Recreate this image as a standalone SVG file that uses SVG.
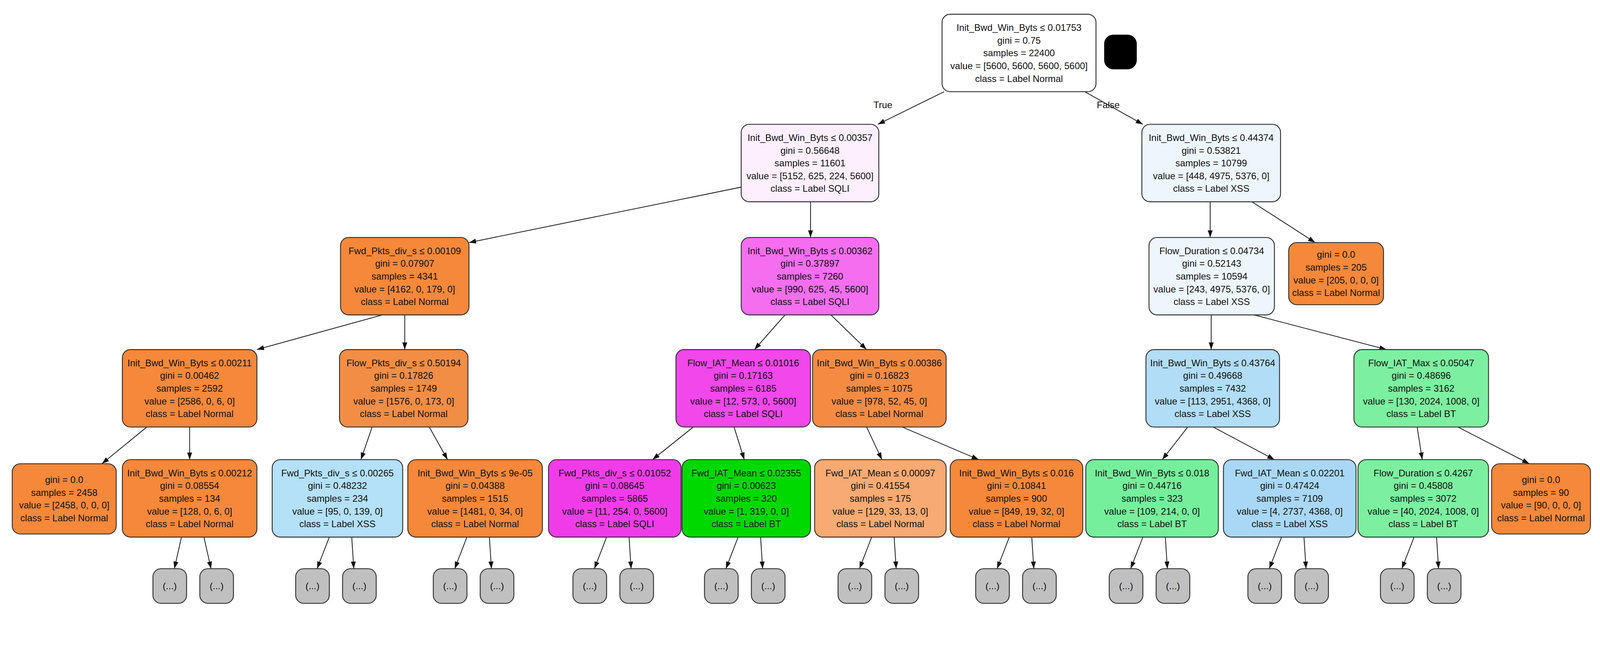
<svg xmlns="http://www.w3.org/2000/svg" width="4408" height="1680" viewBox="0 0 4408 1680">
<style>
.n rect{stroke:#333;stroke-width:0.9}
.n text{font-family:"Liberation Sans",Arial,sans-serif;font-size:9.2px;text-anchor:middle;fill:#111}
.e line{stroke:#222;stroke-width:0.8;marker-end:url(#ah)}
.lbl{font-family:"Liberation Sans",Arial,sans-serif;font-size:9.2px;text-anchor:middle;fill:#111}
.o{fill:#f5883a}
.l rect{fill:#c0c0c0}
</style>
<defs><marker id="ah" viewBox="0 0 10 10" refX="10" refY="5" markerWidth="7" markerHeight="7" orient="auto" markerUnits="userSpaceOnUse"><path d="M0,1.5L10,5L0,8.5z" fill="#111"/></marker></defs>
<rect width="4408" height="1680" fill="#fff"/>
<g transform="scale(2.61)">
<g id="edges" class="e">
<line x1="926" y1="90" x2="861" y2="122"/>
<line x1="1064" y1="90" x2="1121" y2="122"/>
<line x1="730" y1="183" x2="460" y2="238"/>
<line x1="795" y1="198" x2="795" y2="233"/>
<line x1="1187" y1="198" x2="1187" y2="233"/>
<line x1="1228" y1="198" x2="1290" y2="238"/>
<line x1="375" y1="309" x2="252" y2="343"/>
<line x1="397" y1="309" x2="397" y2="343"/>
<line x1="770" y1="309" x2="740" y2="343"/>
<line x1="815" y1="309" x2="850" y2="343"/>
<line x1="1188" y1="309" x2="1188" y2="343"/>
<line x1="1230" y1="309" x2="1360" y2="343"/>
<line x1="144" y1="419" x2="100" y2="455"/>
<line x1="186" y1="419" x2="186" y2="451"/>
<line x1="365" y1="419" x2="354" y2="451"/>
<line x1="421" y1="419" x2="439" y2="451"/>
<line x1="680" y1="419" x2="640" y2="451"/>
<line x1="720" y1="419" x2="730" y2="451"/>
<line x1="850" y1="419" x2="865" y2="451"/>
<line x1="885" y1="419" x2="960" y2="451"/>
<line x1="1165" y1="419" x2="1140" y2="451"/>
<line x1="1190" y1="419" x2="1250" y2="451"/>
<line x1="1390" y1="419" x2="1395" y2="451"/>
<line x1="1430" y1="419" x2="1500" y2="455"/>
<line x1="178" y1="527" x2="171" y2="558"/><line x1="200" y1="527" x2="207" y2="558"/>
<line x1="323" y1="527" x2="311" y2="558"/><line x1="345" y1="527" x2="347" y2="558"/>
<line x1="458" y1="527" x2="446" y2="558"/><line x1="480" y1="527" x2="482" y2="558"/>
<line x1="595" y1="527" x2="583" y2="558"/><line x1="617" y1="527" x2="619" y2="558"/>
<line x1="724" y1="527" x2="712" y2="558"/><line x1="746" y1="527" x2="748" y2="558"/>
<line x1="855" y1="527" x2="843" y2="558"/><line x1="877" y1="527" x2="879" y2="558"/>
<line x1="990" y1="527" x2="978" y2="558"/><line x1="1012" y1="527" x2="1014" y2="558"/>
<line x1="1121" y1="527" x2="1109" y2="558"/><line x1="1143" y1="527" x2="1145" y2="558"/>
<line x1="1257" y1="527" x2="1245" y2="558"/><line x1="1279" y1="527" x2="1281" y2="558"/>
<line x1="1387" y1="527" x2="1375" y2="558"/><line x1="1409" y1="527" x2="1411" y2="558"/>
</g>
<text class="lbl" x="866" y="106">True</text>
<text class="lbl" x="1087" y="106">False</text>
<rect x="1083" y="34" width="32" height="34" rx="9" fill="#000"/>

<g id="root" class="n"><rect x="924" y="14" width="151" height="76" rx="8" fill="#fff"/><text x="999.5" y="30.3">Init_Bwd_Win_Byts ≤ 0.01753<tspan x="999.5" dy="12.5">gini = 0.75</tspan><tspan x="999.5" dy="12.5">samples = 22400</tspan><tspan x="999.5" dy="12.5">value = [5600, 5600, 5600, 5600]</tspan><tspan x="999.5" dy="12.5">class = Label Normal</tspan></text></g>

<g id="nA" class="n"><rect x="727" y="122" width="135" height="76" rx="8" fill="#fdeffd"/><text x="794.5" y="138.3">Init_Bwd_Win_Byts ≤ 0.00357<tspan x="794.5" dy="12.5">gini = 0.56648</tspan><tspan x="794.5" dy="12.5">samples = 11601</tspan><tspan x="794.5" dy="12.5">value = [5152, 625, 224, 5600]</tspan><tspan x="794.5" dy="12.5">class = Label SQLI</tspan></text></g>
<g id="nB" class="n"><rect x="1120" y="122" width="136" height="76" rx="8" fill="#eef6fd"/><text x="1188" y="138.3">Init_Bwd_Win_Byts ≤ 0.44374<tspan x="1188" dy="12.5">gini = 0.53821</tspan><tspan x="1188" dy="12.5">samples = 10799</tspan><tspan x="1188" dy="12.5">value = [448, 4975, 5376, 0]</tspan><tspan x="1188" dy="12.5">class = Label XSS</tspan></text></g>

<g id="nC" class="n"><rect x="334" y="233" width="126" height="76" rx="8" class="o"/><text x="397" y="249.3">Fwd_Pkts_div_s ≤ 0.00109<tspan x="397" dy="12.5">gini = 0.07907</tspan><tspan x="397" dy="12.5">samples = 4341</tspan><tspan x="397" dy="12.5">value = [4162, 0, 179, 0]</tspan><tspan x="397" dy="12.5">class = Label Normal</tspan></text></g>
<g id="nD" class="n"><rect x="727" y="233" width="135" height="76" rx="8" fill="#f56ef0"/><text x="794.5" y="249.3">Init_Bwd_Win_Byts ≤ 0.00362<tspan x="794.5" dy="12.5">gini = 0.37897</tspan><tspan x="794.5" dy="12.5">samples = 7260</tspan><tspan x="794.5" dy="12.5">value = [990, 625, 45, 5600]</tspan><tspan x="794.5" dy="12.5">class = Label SQLI</tspan></text></g>
<g id="nE" class="n"><rect x="1127" y="233" width="123" height="76" rx="8" fill="#eef6fd"/><text x="1188.5" y="249.3">Flow_Duration ≤ 0.04734<tspan x="1188.5" dy="12.5">gini = 0.52143</tspan><tspan x="1188.5" dy="12.5">samples = 10594</tspan><tspan x="1188.5" dy="12.5">value = [243, 4975, 5376, 0]</tspan><tspan x="1188.5" dy="12.5">class = Label XSS</tspan></text></g>
<g id="nF" class="n"><rect x="1264" y="238" width="93" height="61" rx="8" class="o"/><text x="1310.5" y="253">gini = 0.0<tspan x="1310.5" dy="12.5">samples = 205</tspan><tspan x="1310.5" dy="12.5">value = [205, 0, 0, 0]</tspan><tspan x="1310.5" dy="12.5">class = Label Normal</tspan></text></g>

<g id="nG" class="n"><rect x="120" y="343" width="132" height="76" rx="8" class="o"/><text x="186" y="359.3">Init_Bwd_Win_Byts ≤ 0.00211<tspan x="186" dy="12.5">gini = 0.00462</tspan><tspan x="186" dy="12.5">samples = 2592</tspan><tspan x="186" dy="12.5">value = [2586, 0, 6, 0]</tspan><tspan x="186" dy="12.5">class = Label Normal</tspan></text></g>
<g id="nH" class="n"><rect x="333" y="343" width="126" height="76" rx="8" fill="#f28d45"/><text x="396" y="359.3">Flow_Pkts_div_s ≤ 0.50194<tspan x="396" dy="12.5">gini = 0.17826</tspan><tspan x="396" dy="12.5">samples = 1749</tspan><tspan x="396" dy="12.5">value = [1576, 0, 173, 0]</tspan><tspan x="396" dy="12.5">class = Label Normal</tspan></text></g>
<g id="nI" class="n"><rect x="663" y="343" width="132" height="76" rx="8" fill="#f147eb"/><text x="729" y="359.3">Flow_IAT_Mean ≤ 0.01016<tspan x="729" dy="12.5">gini = 0.17163</tspan><tspan x="729" dy="12.5">samples = 6185</tspan><tspan x="729" dy="12.5">value = [12, 573, 0, 5600]</tspan><tspan x="729" dy="12.5">class = Label SQLI</tspan></text></g>
<g id="nJ" class="n"><rect x="797" y="343" width="131" height="76" rx="8" fill="#f48b42"/><text x="862.5" y="359.3">Init_Bwd_Win_Byts ≤ 0.00386<tspan x="862.5" dy="12.5">gini = 0.16823</tspan><tspan x="862.5" dy="12.5">samples = 1075</tspan><tspan x="862.5" dy="12.5">value = [978, 52, 45, 0]</tspan><tspan x="862.5" dy="12.5">class = Label Normal</tspan></text></g>
<g id="nK" class="n"><rect x="1124" y="343" width="131" height="76" rx="8" fill="#b1ddf6"/><text x="1189.5" y="359.3">Init_Bwd_Win_Byts ≤ 0.43764<tspan x="1189.5" dy="12.5">gini = 0.49668</tspan><tspan x="1189.5" dy="12.5">samples = 7432</tspan><tspan x="1189.5" dy="12.5">value = [113, 2951, 4368, 0]</tspan><tspan x="1189.5" dy="12.5">class = Label XSS</tspan></text></g>
<g id="nL" class="n"><rect x="1328" y="343" width="132" height="76" rx="8" fill="#7cf0a0"/><text x="1394" y="359.3">Flow_IAT_Max ≤ 0.05047<tspan x="1394" dy="12.5">gini = 0.48696</tspan><tspan x="1394" dy="12.5">samples = 3162</tspan><tspan x="1394" dy="12.5">value = [130, 2024, 1008, 0]</tspan><tspan x="1394" dy="12.5">class = Label BT</tspan></text></g>

<g id="nM" class="n"><rect x="12" y="455" width="102" height="69" rx="8" class="o"/><text x="63" y="474">gini = 0.0<tspan x="63" dy="12.5">samples = 2458</tspan><tspan x="63" dy="12.5">value = [2458, 0, 0, 0]</tspan><tspan x="63" dy="12.5">class = Label Normal</tspan></text></g>
<g id="nN" class="n"><rect x="120" y="451" width="132" height="76" rx="8" class="o"/><text x="186" y="467.3">Init_Bwd_Win_Byts ≤ 0.00212<tspan x="186" dy="12.5">gini = 0.08554</tspan><tspan x="186" dy="12.5">samples = 134</tspan><tspan x="186" dy="12.5">value = [128, 0, 6, 0]</tspan><tspan x="186" dy="12.5">class = Label Normal</tspan></text></g>
<g id="nO" class="n"><rect x="267" y="451" width="128" height="76" rx="8" fill="#b4e0f8"/><text x="331" y="467.3">Fwd_Pkts_div_s ≤ 0.00265<tspan x="331" dy="12.5">gini = 0.48232</tspan><tspan x="331" dy="12.5">samples = 234</tspan><tspan x="331" dy="12.5">value = [95, 0, 139, 0]</tspan><tspan x="331" dy="12.5">class = Label XSS</tspan></text></g>
<g id="nP" class="n"><rect x="400" y="451" width="132" height="76" rx="8" class="o"/><text x="466" y="467.3">Init_Bwd_Win_Byts ≤ 9e-05<tspan x="466" dy="12.5">gini = 0.04388</tspan><tspan x="466" dy="12.5">samples = 1515</tspan><tspan x="466" dy="12.5">value = [1481, 0, 34, 0]</tspan><tspan x="466" dy="12.5">class = Label Normal</tspan></text></g>
<g id="nQ" class="n"><rect x="538" y="451" width="130" height="76" rx="8" fill="#f03ce8"/><text x="603" y="467.3">Fwd_Pkts_div_s ≤ 0.01052<tspan x="603" dy="12.5">gini = 0.08645</tspan><tspan x="603" dy="12.5">samples = 5865</tspan><tspan x="603" dy="12.5">value = [11, 254, 0, 5600]</tspan><tspan x="603" dy="12.5">class = Label SQLI</tspan></text></g>
<g id="nR" class="n"><rect x="669" y="451" width="126" height="76" rx="8" fill="#00d900"/><text x="732" y="467.3">Fwd_IAT_Mean ≤ 0.02355<tspan x="732" dy="12.5">gini = 0.00623</tspan><tspan x="732" dy="12.5">samples = 320</tspan><tspan x="732" dy="12.5">value = [1, 319, 0, 0]</tspan><tspan x="732" dy="12.5">class = Label BT</tspan></text></g>
<g id="nS" class="n"><rect x="799" y="451" width="129" height="76" rx="8" fill="#f7aa72"/><text x="863.5" y="467.3">Fwd_IAT_Mean ≤ 0.00097<tspan x="863.5" dy="12.5">gini = 0.41554</tspan><tspan x="863.5" dy="12.5">samples = 175</tspan><tspan x="863.5" dy="12.5">value = [129, 33, 13, 0]</tspan><tspan x="863.5" dy="12.5">class = Label Normal</tspan></text></g>
<g id="nT" class="n"><rect x="932" y="451" width="130" height="76" rx="8" class="o"/><text x="997" y="467.3">Init_Bwd_Win_Byts ≤ 0.016<tspan x="997" dy="12.5">gini = 0.10841</tspan><tspan x="997" dy="12.5">samples = 900</tspan><tspan x="997" dy="12.5">value = [849, 19, 32, 0]</tspan><tspan x="997" dy="12.5">class = Label Normal</tspan></text></g>
<g id="nU" class="n"><rect x="1065" y="451" width="130" height="76" rx="8" fill="#76ef9c"/><text x="1130" y="467.3">Init_Bwd_Win_Byts ≤ 0.018<tspan x="1130" dy="12.5">gini = 0.44716</tspan><tspan x="1130" dy="12.5">samples = 323</tspan><tspan x="1130" dy="12.5">value = [109, 214, 0, 0]</tspan><tspan x="1130" dy="12.5">class = Label BT</tspan></text></g>
<g id="nV" class="n"><rect x="1200" y="451" width="130" height="76" rx="8" fill="#a8d8f5"/><text x="1265" y="467.3">Fwd_IAT_Mean ≤ 0.02201<tspan x="1265" dy="12.5">gini = 0.47424</tspan><tspan x="1265" dy="12.5">samples = 7109</tspan><tspan x="1265" dy="12.5">value = [4, 2737, 4368, 0]</tspan><tspan x="1265" dy="12.5">class = Label XSS</tspan></text></g>
<g id="nW" class="n"><rect x="1332" y="451" width="128" height="76" rx="8" fill="#7cf0a0"/><text x="1396" y="467.3">Flow_Duration ≤ 0.4267<tspan x="1396" dy="12.5">gini = 0.45808</tspan><tspan x="1396" dy="12.5">samples = 3072</tspan><tspan x="1396" dy="12.5">value = [40, 2024, 1008, 0]</tspan><tspan x="1396" dy="12.5">class = Label BT</tspan></text></g>
<g id="nX" class="n"><rect x="1463" y="455" width="97" height="69" rx="8" class="o"/><text x="1511.5" y="474">gini = 0.0<tspan x="1511.5" dy="12.5">samples = 90</tspan><tspan x="1511.5" dy="12.5">value = [90, 0, 0, 0]</tspan><tspan x="1511.5" dy="12.5">class = Label Normal</tspan></text></g>

<g id="leaf1" class="n l"><rect x="150" y="558" width="33" height="34" rx="8"/><text x="166.5" y="578">(...)</text></g>
<g id="leaf2" class="n l"><rect x="196" y="558" width="33" height="34" rx="8"/><text x="212.5" y="578">(...)</text></g>
<g id="leaf3" class="n l"><rect x="290" y="558" width="33" height="34" rx="8"/><text x="306.5" y="578">(...)</text></g>
<g id="leaf4" class="n l"><rect x="336" y="558" width="33" height="34" rx="8"/><text x="352.5" y="578">(...)</text></g>
<g id="leaf5" class="n l"><rect x="425" y="558" width="33" height="34" rx="8"/><text x="441.5" y="578">(...)</text></g>
<g id="leaf6" class="n l"><rect x="471" y="558" width="33" height="34" rx="8"/><text x="487.5" y="578">(...)</text></g>
<g id="leaf7" class="n l"><rect x="562" y="558" width="33" height="34" rx="8"/><text x="578.5" y="578">(...)</text></g>
<g id="leaf8" class="n l"><rect x="608" y="558" width="33" height="34" rx="8"/><text x="624.5" y="578">(...)</text></g>
<g id="leaf9" class="n l"><rect x="691" y="558" width="33" height="34" rx="8"/><text x="707.5" y="578">(...)</text></g>
<g id="leaf10" class="n l"><rect x="737" y="558" width="33" height="34" rx="8"/><text x="753.5" y="578">(...)</text></g>
<g id="leaf11" class="n l"><rect x="822" y="558" width="33" height="34" rx="8"/><text x="838.5" y="578">(...)</text></g>
<g id="leaf12" class="n l"><rect x="868" y="558" width="33" height="34" rx="8"/><text x="884.5" y="578">(...)</text></g>
<g id="leaf13" class="n l"><rect x="957" y="558" width="33" height="34" rx="8"/><text x="973.5" y="578">(...)</text></g>
<g id="leaf14" class="n l"><rect x="1003" y="558" width="33" height="34" rx="8"/><text x="1019.5" y="578">(...)</text></g>
<g id="leaf15" class="n l"><rect x="1088" y="558" width="33" height="34" rx="8"/><text x="1104.5" y="578">(...)</text></g>
<g id="leaf16" class="n l"><rect x="1134" y="558" width="33" height="34" rx="8"/><text x="1150.5" y="578">(...)</text></g>
<g id="leaf17" class="n l"><rect x="1224" y="558" width="33" height="34" rx="8"/><text x="1240.5" y="578">(...)</text></g>
<g id="leaf18" class="n l"><rect x="1270" y="558" width="33" height="34" rx="8"/><text x="1286.5" y="578">(...)</text></g>
<g id="leaf19" class="n l"><rect x="1354" y="558" width="33" height="34" rx="8"/><text x="1370.5" y="578">(...)</text></g>
<g id="leaf20" class="n l"><rect x="1400" y="558" width="33" height="34" rx="8"/><text x="1416.5" y="578">(...)</text></g>
</g>
</svg>
